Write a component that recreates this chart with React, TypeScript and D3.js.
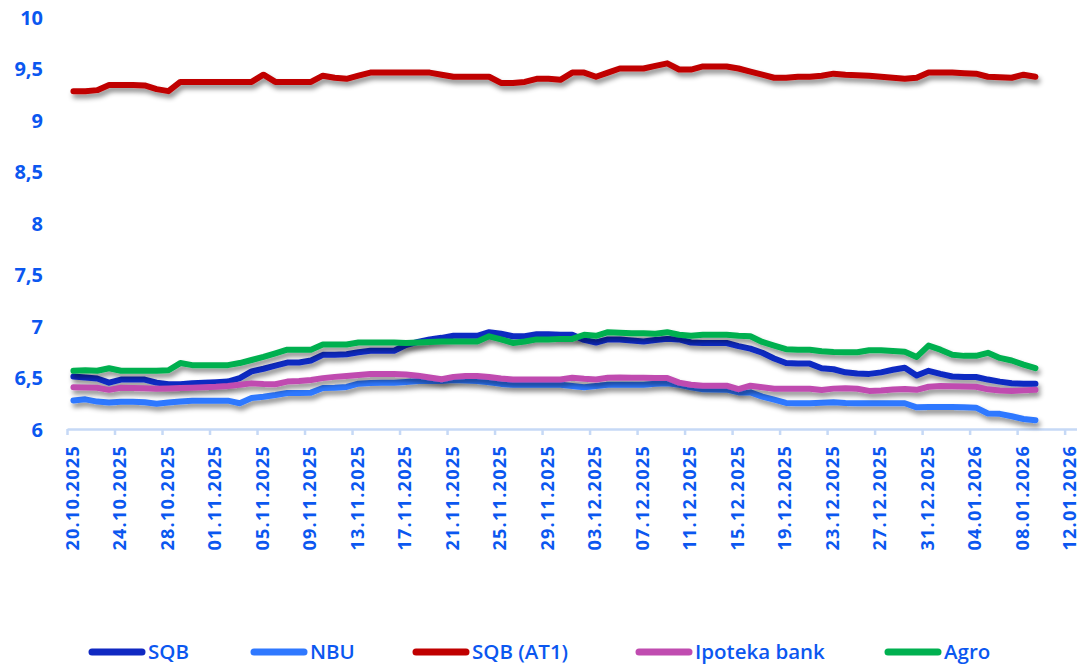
import React, { useEffect, useRef } from "react";
import * as d3 from "d3";

// series, in drawing order (last one on top)
const seriesNames = ["SQB", "NBU", "SQB (AT1)", "Ipoteka bank", "Agro"];
const seriesColors = ["#1029c2", "#2f78ff", "#c00000", "#c04cb0", "#00b050"];

// daily values, 20.10.2025 .. 09.01.2026
const sqb = [
  6.51, 6.5, 6.49, 6.45, 6.48, 6.48, 6.48, 6.45, 6.435, 6.435,
  6.445, 6.45, 6.455, 6.46, 6.495, 6.56, 6.585, 6.615, 6.645, 6.645,
  6.665, 6.72, 6.72, 6.725, 6.745, 6.76, 6.76, 6.76, 6.815, 6.845,
  6.87, 6.885, 6.905, 6.905, 6.905, 6.94, 6.925, 6.9, 6.9, 6.92,
  6.92, 6.915, 6.915, 6.865, 6.84, 6.87, 6.87, 6.86, 6.85, 6.865,
  6.875, 6.87, 6.84, 6.835, 6.835, 6.835, 6.805, 6.78, 6.74, 6.685,
  6.64, 6.635, 6.635, 6.59, 6.58, 6.55, 6.538, 6.535, 6.55, 6.575,
  6.595, 6.52, 6.565, 6.535, 6.51, 6.505, 6.505, 6.48, 6.46, 6.445,
  6.44, 6.44,
];
const nbu = [
  6.277, 6.288, 6.266, 6.258, 6.265, 6.265, 6.26, 6.245, 6.257, 6.268,
  6.275, 6.275, 6.275, 6.275, 6.25, 6.3, 6.313, 6.33, 6.35, 6.35,
  6.353, 6.398, 6.4, 6.408, 6.44, 6.447, 6.448, 6.45, 6.457, 6.465,
  6.465, 6.465, 6.475, 6.47, 6.466, 6.453, 6.438, 6.43, 6.43, 6.43,
  6.43, 6.43, 6.418, 6.405, 6.418, 6.43, 6.43, 6.43, 6.43, 6.44,
  6.445, 6.43, 6.405, 6.385, 6.383, 6.382, 6.355, 6.355, 6.315, 6.285,
  6.253, 6.25, 6.25, 6.255, 6.26, 6.253, 6.25, 6.25, 6.25, 6.25,
  6.25, 6.21, 6.213, 6.214, 6.213, 6.211, 6.207, 6.15, 6.147, 6.124,
  6.097, 6.085,
];
const sqbAt1 = [
  9.28, 9.28, 9.29, 9.34, 9.34, 9.34, 9.335, 9.3, 9.28, 9.37,
  9.37, 9.37, 9.37, 9.37, 9.37, 9.37, 9.44, 9.37, 9.37, 9.37,
  9.37, 9.43, 9.41, 9.4, 9.43, 9.46, 9.46, 9.46, 9.46, 9.46,
  9.46, 9.44, 9.42, 9.42, 9.42, 9.42, 9.36, 9.36, 9.37, 9.4,
  9.4, 9.39, 9.46, 9.46, 9.42, 9.46, 9.5, 9.5, 9.5, 9.525,
  9.55, 9.49, 9.49, 9.52, 9.52, 9.52, 9.5, 9.47, 9.44, 9.41,
  9.41, 9.42, 9.42, 9.43, 9.45, 9.44, 9.435, 9.43, 9.42, 9.41,
  9.4, 9.41, 9.46, 9.46, 9.46, 9.455, 9.45, 9.42, 9.415, 9.41,
  9.44, 9.42,
];
const ipoteka = [
  6.405, 6.403, 6.4, 6.38, 6.4, 6.397, 6.395, 6.39, 6.393, 6.397,
  6.4, 6.405, 6.41, 6.418, 6.43, 6.443, 6.437, 6.435, 6.46, 6.466,
  6.476, 6.494, 6.506, 6.515, 6.524, 6.533, 6.535, 6.535, 6.53, 6.518,
  6.5, 6.483, 6.506, 6.515, 6.515, 6.505, 6.49, 6.48, 6.48, 6.48,
  6.48, 6.48, 6.498, 6.487, 6.48, 6.497, 6.499, 6.498, 6.497, 6.496,
  6.495, 6.45, 6.43, 6.42, 6.42, 6.42, 6.386, 6.42, 6.405, 6.39,
  6.39, 6.39, 6.39, 6.378, 6.392, 6.396, 6.39, 6.37, 6.373, 6.383,
  6.388, 6.38, 6.41, 6.418, 6.415, 6.412, 6.41, 6.385, 6.373, 6.37,
  6.375, 6.38,
];
const agro = [
  6.565, 6.57, 6.565, 6.59, 6.565, 6.565, 6.565, 6.565, 6.57, 6.64,
  6.62, 6.62, 6.62, 6.62, 6.64, 6.67, 6.7, 6.735, 6.77, 6.77,
  6.77, 6.82, 6.82, 6.82, 6.84, 6.84, 6.84, 6.84, 6.835, 6.84,
  6.845, 6.85, 6.85, 6.85, 6.85, 6.9, 6.87, 6.835, 6.85, 6.87,
  6.87, 6.875, 6.875, 6.915, 6.905, 6.94, 6.935, 6.93, 6.93, 6.925,
  6.94, 6.915, 6.905, 6.915, 6.915, 6.915, 6.905, 6.9, 6.845, 6.81,
  6.775, 6.77, 6.77, 6.755, 6.748, 6.745, 6.745, 6.765, 6.765, 6.757,
  6.75, 6.7, 6.81, 6.77, 6.72, 6.71, 6.71, 6.74, 6.69, 6.665,
  6.625, 6.59,
];
const seriesValues = [sqb, nbu, sqbAt1, ipoteka, agro];

const firstDay = new Date(Date.UTC(2025, 9, 20));
const lastDay = new Date(Date.UTC(2026, 0, 9));
const axisEnd = new Date(Date.UTC(2026, 0, 13));
const dates = d3.utcDay.range(firstDay, d3.utcDay.offset(lastDay, 1));
const xTicks = d3.utcDay.range(firstDay, axisEnd, 4);
const yTicks = [6, 6.5, 7, 7.5, 8, 8.5, 9, 9.5, 10];

// layout
const W = 1080, H = 664;
const plot = { left: 67.5, right: 1077, top: 17, bottom: 429 };
const legendX = [89, 251, 413, 636, 885];
const legendY = 651;
const textBlue = "#0b57f0";
const axisColor = "#c6d9f6";
const font = "'Open Sans', 'DejaVu Sans', sans-serif";

const App = () => {
  const svgRef = useRef<SVGSVGElement>(null);

  useEffect(() => {
    const svg = d3.select(svgRef.current);
    svg.selectAll("*").remove();

    const x = d3.scaleUtc().domain([firstDay, axisEnd]).range([plot.left, plot.right]);
    const y = d3.scaleLinear().domain([6, 10]).range([plot.bottom, plot.top]);
    // points sit in the middle of their day, like a date axis "between tick marks"
    const mid = (d: Date) => x(d3.utcHour.offset(d, 12));

    const fmtY = d3.formatLocale({ decimal: ",", thousands: " ", grouping: [3], currency: ["", ""] }).format(".1~f");
    const fmtX = d3.utcFormat("%d.%m.%Y");

    // soft drop shadow under the lines
    const filter = svg.append("defs").append("filter")
      .attr("id", "lineShadow")
      .attr("filterUnits", "userSpaceOnUse")
      .attr("x", 0).attr("y", 0).attr("width", W).attr("height", H);
    filter.append("feDropShadow")
      .attr("dx", 2).attr("dy", 4)
      .attr("stdDeviation", 2.4)
      .attr("flood-color", "#000")
      .attr("flood-opacity", 0.45);

    // y labels
    svg.append("g")
      .selectAll("text")
      .data(yTicks)
      .join("text")
      .attr("x", 43)
      .attr("y", d => y(d))
      .attr("text-anchor", "end")
      .attr("dominant-baseline", "central")
      .attr("fill", textBlue)
      .attr("font-family", font)
      .attr("font-weight", 700)
      .attr("font-size", 20)
      .text(d => fmtY(d));

    // x axis
    const xAxis = svg.append("g");
    xAxis.append("line")
      .attr("x1", plot.left).attr("x2", plot.right)
      .attr("y1", plot.bottom + 0.5).attr("y2", plot.bottom + 0.5)
      .attr("stroke", axisColor).attr("stroke-width", 2.5);
    xAxis.selectAll("line.tick")
      .data(xTicks)
      .join("line")
      .attr("class", "tick")
      .attr("x1", d => x(d)).attr("x2", d => x(d))
      .attr("y1", plot.bottom).attr("y2", plot.bottom + 6)
      .attr("stroke", axisColor).attr("stroke-width", 2.5);
    xAxis.selectAll("text")
      .data(xTicks)
      .join("text")
      .attr("transform", d => `translate(${x(d) + 4},${plot.bottom + 16}) rotate(-90)`)
      .attr("text-anchor", "end")
      .attr("dominant-baseline", "central")
      .attr("fill", textBlue)
      .attr("font-family", font)
      .attr("font-weight", 700)
      .attr("font-size", 18)
      .attr("letter-spacing", 1.3)
      .text(d => fmtX(d));

    // lines
    const line = d3.line<number>()
      .x((_, i) => mid(dates[i]))
      .y(v => y(v));

    svg.append("g")
      .selectAll("path")
      .data(seriesValues)
      .join("path")
      .attr("d", d => line(d))
      .attr("fill", "none")
      .attr("stroke", (_, i) => seriesColors[i])
      .attr("stroke-width", 6)
      .attr("stroke-linejoin", "round")
      .attr("stroke-linecap", "round")
      .attr("filter", "url(#lineShadow)");

    // legend
    const legend = svg.append("g")
      .selectAll("g")
      .data(seriesNames)
      .join("g")
      .attr("transform", (_, i) => `translate(${legendX[i]},${legendY})`);
    legend.append("line")
      .attr("x1", 3).attr("x2", 53)
      .attr("y1", 1).attr("y2", 1)
      .attr("stroke", (_, i) => seriesColors[i])
      .attr("stroke-width", 7)
      .attr("stroke-linecap", "round");
    legend.append("text")
      .attr("x", 59)
      .attr("y", 0)
      .attr("dominant-baseline", "central")
      .attr("fill", textBlue)
      .attr("font-family", font)
      .attr("font-weight", 600)
      .attr("font-size", 20.5)
      .text(d => d);
  }, []);

  return (
    <svg
      ref={svgRef}
      width={W}
      height={H}
      style={{ position: "fixed", left: 0, top: 0, background: "#fff" }}
    />
  );
};

export default App;
